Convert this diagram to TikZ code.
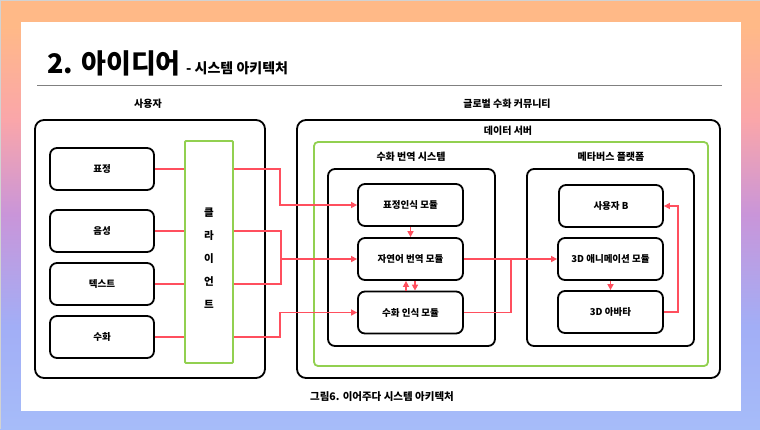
\documentclass[tikz,border=0pt]{standalone}
\usepackage{fontspec}
\setmainfont{Noto Sans CJK KR}
\usetikzlibrary{arrows.meta,positioning,calc}
\definecolor{LinkRed}{HTML}{FF4F5E}
\definecolor{FrameGreen}{HTML}{92D050}
\definecolor{RuleGray}{HTML}{808080}
\definecolor{BgOrange}{HTML}{FFB987}
\definecolor{BgPink}{HTML}{FAA6AA}
\definecolor{BgPurple}{HTML}{C995D9}
\definecolor{BgBlue}{HTML}{A2AEF6}
\definecolor{BgBlueLow}{HTML}{A6BCF9}
\pgfdeclareverticalshading{bgfade}{100bp}{color(0bp)=(BgBlueLow); color(25bp)=(BgBlueLow); color(37bp)=(BgBlue); color(50bp)=(BgPurple); color(61bp)=(BgPink); color(72bp)=(BgOrange); color(100bp)=(BgOrange)}

\begin{document}
\begin{tikzpicture}[
    x=1pt, y=-1pt,
    frame/.style={draw=black, line width=1.8pt, rounded corners=7pt},
    modbox/.style={frame, minimum width=105pt, minimum height=42pt, inner sep=0pt, font=\fontsize{9.5}{11}\selectfont\bfseries},
    greenframe/.style={draw=FrameGreen, line width=1.8pt},
    head/.style={font=\fontsize{10}{12}\selectfont\bfseries},
    link/.style={draw=LinkRed, line width=1.8pt},
    arrow/.style={link, -{Triangle[length=6pt, width=6pt]}}
]
  \useasboundingbox (0,0) rectangle (760,429);

  % -------------------------------------------------------------
  % BACKGROUND AND TITLE
  % -------------------------------------------------------------
  \shade[shading=bgfade] (0,0) rectangle (760,429);
  \draw[gray!35, line width=1pt] (0,429) -- (0,0.5) -- (760,0.5);
  \fill[white] (21,22) rectangle (741,411);

  \node[anchor=base west, inner sep=0pt, font=\fontsize{27}{30}\selectfont\bfseries] (title) at (47,73) {2. 아이디어};
  \node[anchor=base west, inner sep=0pt, font=\fontsize{14}{16}\selectfont\bfseries] (subtitle) at ([xshift=5pt]title.base east) {- 시스템 아키텍처};
  \coordinate (ruleL) at (37,85);
  \coordinate (ruleR) at (722,85);
  \draw[RuleGray, line width=1pt] (ruleL) -- (ruleR);

  % -------------------------------------------------------------
  % LEFT: USER SIDE
  % -------------------------------------------------------------
  \node[head] (userhead) at (148,104) {사용자};
  \node[frame, rounded corners=9pt, minimum width=230pt, minimum height=258pt] (userbox) at (150,249) {};

  \node[modbox, minimum width=104pt] (in1) at (102,169) {표정};
  \node[modbox, minimum width=104pt] (in2) at (102,231) {음성};
  \node[modbox, minimum width=104pt] (in3) at (102,284) {텍스트};
  \node[modbox, minimum width=104pt] (in4) at (102,337) {수화};

  \node[greenframe, rounded corners=1pt, minimum width=48pt, minimum height=222pt] (client) at (209,252) {};
  \node[align=center, inner sep=0pt, font=\fontsize{10.5}{23}\selectfont\bfseries] (clientlbl) at (209,258) {클\\라\\이\\언\\트};

  % -------------------------------------------------------------
  % RIGHT: DATA SERVER
  % -------------------------------------------------------------
  \node[head] (communityhead) at (507,104) {글로벌 수화 커뮤니티};
  \node[frame, rounded corners=9pt, minimum width=423pt, minimum height=258pt] (server) at (508.5,249) {};
  \node[head] (serverhead) at (508,131) {데이터 서버};
  \node[greenframe, rounded corners=4pt, minimum width=394pt, minimum height=224pt] (serverin) at (511,254) {};

  % Translation system
  \node[head] (transhead) at (411,157) {수화 번역 시스템};
  \node[frame, minimum width=167pt, minimum height=177pt] (trans) at (411.5,257.5) {};
  \node[modbox] (fm) at (410.5,205) {표정인식 모듈};
  \node[modbox] (nlm) at (410.5,259) {자연어 번역 모듈};
  \node[modbox] (slm) at (410.5,312.5) {수화 인식 모듈};

  % Metaverse platform
  \node[head] (metahead) at (611,157) {메타버스 플랫폼};
  \node[frame, minimum width=167pt, minimum height=177pt] (meta) at (610.5,257.5) {};
  \node[modbox, minimum width=104pt] (userB) at (611,206) {사용자 B};
  \node[modbox] (anim) at (610.5,259) {3D 애니메이션 모듈};
  \node[modbox] (avatar) at (610.5,312) {3D 아바타};

  % -------------------------------------------------------------
  % CONNECTORS
  % -------------------------------------------------------------
  \coordinate (b1) at (280,0);
  \coordinate (b2) at (281,0);
  \coordinate (b3) at (511,0);
  \coordinate (b4) at (678,0);

  \foreach \src in {in1,in2,in3,in4}
    \draw[link] (\src.east) -- (\src.east -| client.west);

  \draw[arrow] (client.east |- in1.east) -| (b1 |- fm.west) -- (fm.west);
  \draw[link] (client.east |- in2.east) -| (b2 |- nlm.west);
  \draw[link] (client.east |- in3.east) -| (b2 |- nlm.west);
  \draw[arrow] (b2 |- nlm.west) -- (nlm.west);
  \draw[arrow] (client.east |- in4.east) -| (b1 |- slm.west) -- (slm.west);

  \draw[arrow] (fm.south) -- (nlm.north);
  \draw[arrow] ([xshift=-4.5pt]slm.north) -- ([xshift=-4.5pt]nlm.south);
  \draw[arrow] ([xshift=4.5pt]nlm.south) -- ([xshift=4.5pt]slm.north);

  \draw[arrow] (nlm.east) -- (anim.west);
  \draw[link] (slm.east) -| (b3 |- anim.west);
  \draw[arrow] (anim.south) -- (avatar.north);
  \draw[arrow] (avatar.east) -| (b4 |- userB.east) -- (userB.east);

  % Caption
  \node[font=\fontsize{10.5}{12}\selectfont\bfseries] (caption) at (382,397) {그림6. 이어주다 시스템 아키텍처};

\end{tikzpicture}
\end{document}
